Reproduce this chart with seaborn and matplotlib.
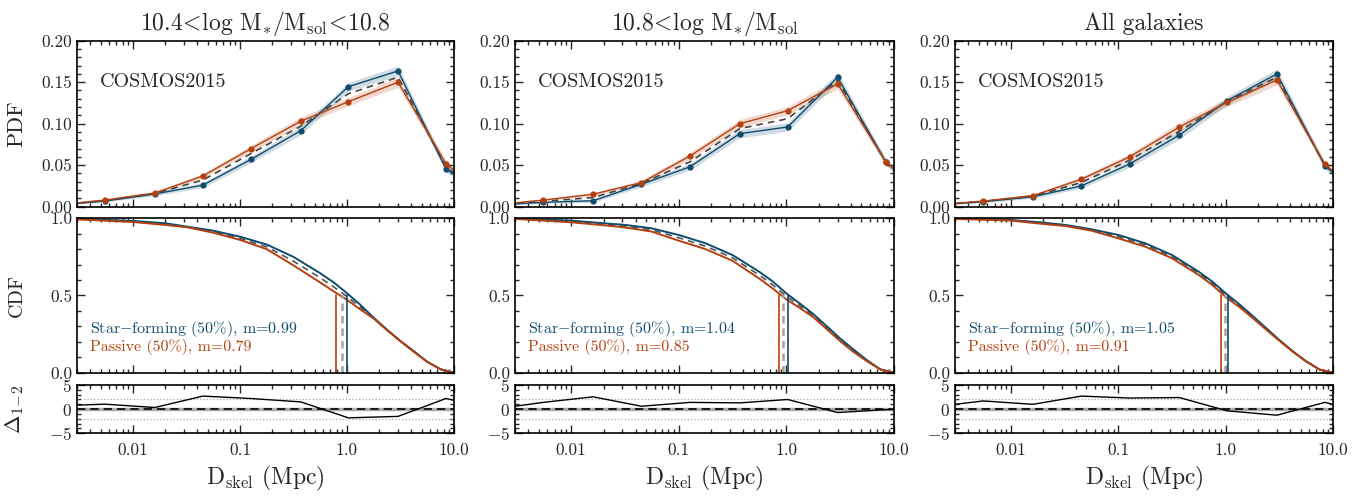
import matplotlib
matplotlib.use('Agg')
import matplotlib.pyplot as plt
import matplotlib.ticker as mticker
import seaborn as sns
import numpy as np


BLUE = '#0f4c6e'
RED = '#b5400f'

titles = [r'10.4$\!<\!$log M$_{*}$/M$_{\rm sol}$$\!<\!$10.8',
          r'10.8$\!<\!$log M$_{*}$/M$_{\rm sol}$',
          'All galaxies']

# PDF bin centres (Mpc)
pdf_x = [0.0019, 0.0055, 0.016, 0.045, 0.127, 0.37, 1.03, 3.0, 8.4, 24.0]
pdf_err = [0.001, 0.001, 0.002, 0.003, 0.004, 0.005, 0.005, 0.006, 0.004, 0.002]

pdf_sf_low = [0.002, 0.0068, 0.0153, 0.026, 0.057, 0.0916, 0.1446, 0.1635, 0.0454, 0.006]
pdf_pas_low = [0.002, 0.008, 0.0165, 0.037, 0.070, 0.103, 0.1265, 0.150, 0.052, 0.002]
pdf_tot_low = [0.002, 0.0073, 0.016, 0.032, 0.064, 0.097, 0.136, 0.156, 0.048, 0.004]

pdf_sf_high = [0.002, 0.0052, 0.0072, 0.027, 0.048, 0.088, 0.096, 0.156, 0.054, 0.002]
pdf_pas_high = [0.002, 0.008, 0.015, 0.029, 0.061, 0.100, 0.1157, 0.148, 0.054, 0.002]
pdf_tot_high = [0.002, 0.0065, 0.011, 0.028, 0.054, 0.094, 0.106, 0.152, 0.054, 0.002]

pdf_sf_all = [0.002, 0.006, 0.012, 0.025, 0.0514, 0.0863, 0.1277, 0.160, 0.049, 0.002]
pdf_pas_all = [0.002, 0.0068, 0.0133, 0.033, 0.060, 0.096, 0.1257, 0.1526, 0.051, 0.002]
pdf_tot_all = [0.002, 0.0064, 0.0127, 0.029, 0.056, 0.091, 0.1267, 0.156, 0.050, 0.002]

# cumulative curves (fraction of galaxies beyond D_skel)
cdf_x = [0.003, 0.01, 0.02, 0.032, 0.056, 0.1, 0.178, 0.316, 0.56, 0.75,
         1.0, 1.33, 1.78, 2.37, 3.16, 4.2, 5.6, 7.5, 10.0]

cdf_sf_low = [0.997, 0.983, 0.968, 0.946, 0.920, 0.881, 0.830, 0.750, 0.645, 0.585,
              0.515, 0.440, 0.355, 0.278, 0.205, 0.140, 0.071, 0.022, 0.0]
cdf_pas_low = [0.993, 0.976, 0.957, 0.942, 0.907, 0.860, 0.800, 0.695, 0.585, 0.527,
               0.472, 0.410, 0.350, 0.275, 0.203, 0.136, 0.071, 0.022, 0.0]
cdf_tot_low = [0.995, 0.980, 0.962, 0.944, 0.913, 0.870, 0.815, 0.722, 0.615, 0.556,
               0.493, 0.425, 0.352, 0.276, 0.204, 0.138, 0.071, 0.022, 0.0]

cdf_sf_high = [1.0, 0.985, 0.968, 0.957, 0.935, 0.892, 0.838, 0.762, 0.654, 0.590,
               0.514, 0.449, 0.380, 0.302, 0.222, 0.151, 0.082, 0.022, 0.0]
cdf_pas_high = [0.996, 0.974, 0.955, 0.940, 0.914, 0.855, 0.800, 0.725, 0.610, 0.545,
                0.475, 0.420, 0.360, 0.283, 0.205, 0.135, 0.075, 0.020, 0.0]
cdf_tot_high = [0.998, 0.980, 0.962, 0.948, 0.925, 0.874, 0.819, 0.744, 0.632, 0.568,
                0.495, 0.435, 0.370, 0.293, 0.214, 0.143, 0.078, 0.021, 0.0]

cdf_sf_all = [1.0, 0.989, 0.972, 0.957, 0.929, 0.892, 0.838, 0.762, 0.654, 0.590,
              0.514, 0.445, 0.368, 0.290, 0.212, 0.140, 0.075, 0.020, 0.0]
cdf_pas_all = [0.996, 0.985, 0.963, 0.950, 0.920, 0.870, 0.816, 0.741, 0.633, 0.568,
               0.490, 0.427, 0.355, 0.280, 0.207, 0.137, 0.073, 0.020, 0.0]
cdf_tot_all = [0.998, 0.987, 0.967, 0.953, 0.924, 0.881, 0.827, 0.751, 0.643, 0.579,
               0.502, 0.436, 0.361, 0.285, 0.209, 0.138, 0.074, 0.020, 0.0]

# medians (Mpc)
m_sf = [0.99, 1.04, 1.05]
m_pas = [0.79, 0.85, 0.91]
m_tot = [0.89, 0.93, 0.98]

# significance of the PDF difference
res_low = [0.68, 1.03, 0.34, 2.7, 2.2, 1.5, -1.8, -1.5, 2.2, 0.0]
res_high = [0.0, 1.4, 2.55, 0.6, 1.4, 1.3, 2.0, -0.7, -0.1, -0.1]
res_all = [0.47, 1.7, 1.0, 2.7, 2.3, 2.4, -0.35, -1.25, 1.4, -1.0]

pdfs = [(pdf_sf_low, pdf_pas_low, pdf_tot_low),
        (pdf_sf_high, pdf_pas_high, pdf_tot_high),
        (pdf_sf_all, pdf_pas_all, pdf_tot_all)]
cdfs = [(cdf_sf_low, cdf_pas_low, cdf_tot_low),
        (cdf_sf_high, cdf_pas_high, cdf_tot_high),
        (cdf_sf_all, cdf_pas_all, cdf_tot_all)]
residuals = [res_low, res_high, res_all]


sns.set_style('ticks')
plt.rcParams['font.family'] = ['cmr10', 'DejaVu Serif']
plt.rcParams['mathtext.fontset'] = 'cm'
plt.rcParams['axes.formatter.use_mathtext'] = True
plt.rcParams['axes.unicode_minus'] = True

fig = plt.figure(figsize=(13.63, 4.96), dpi=100)

COL_X = [0.0565, 0.3778, 0.7007]
COL_W = [0.2766, 0.2780, 0.2773]
ROW_PDF = (0.5833, 0.3347)
ROW_CDF = (0.2486, 0.3113)
ROW_RES = (0.1264, 0.0974)


def style_axis(ax, ymajor, yminor):
    ax.set_xscale('log')
    ax.set_xlim(0.003, 10.0)
    ax.xaxis.set_major_locator(mticker.FixedLocator([0.01, 0.1, 1.0, 10.0]))
    ax.xaxis.set_major_formatter(mticker.FixedFormatter(['0.01', '0.1', '1.0', '10.0']))
    ax.xaxis.set_minor_locator(mticker.LogLocator(base=10, subs=np.arange(2, 10)))
    ax.xaxis.set_minor_formatter(mticker.NullFormatter())
    ax.yaxis.set_major_locator(mticker.MultipleLocator(ymajor))
    ax.yaxis.set_minor_locator(mticker.MultipleLocator(yminor))
    ax.tick_params(which='both', direction='in', top=True, right=True, labelsize=12.5, width=1.0)
    ax.tick_params(which='major', length=6)
    ax.tick_params(which='minor', length=3)
    for sp in ax.spines.values():
        sp.set_linewidth(1.2)
        sp.set_color('black')


for i in range(3):
    sf, pas, tot = pdfs[i]
    ax = fig.add_axes([COL_X[i], ROW_PDF[0], COL_W[i], ROW_PDF[1]])
    for vals, col in [(sf, BLUE), (pas, RED)]:
        lo = np.array(vals) - np.array(pdf_err)
        hi = np.array(vals) + np.array(pdf_err)
        ax.fill_between(pdf_x, lo, hi, color=col, alpha=0.2, lw=0)
    sns.lineplot(x=pdf_x, y=tot, ax=ax, color='#444444', lw=1.2, ls=(0, (4, 3)))
    sns.lineplot(x=pdf_x, y=sf, ax=ax, color=BLUE, lw=1.0, marker='o',
                 markersize=4.5, markeredgewidth=0)
    sns.lineplot(x=pdf_x, y=pas, ax=ax, color=RED, lw=1.0, marker='o',
                 markersize=4.5, markeredgewidth=0)
    style_axis(ax, 0.05, 0.01)
    ax.set_ylim(0, 0.2)
    ax.yaxis.set_major_formatter(mticker.FormatStrFormatter('%.2f'))
    ax.tick_params(labelbottom=False)
    ax.text(0.061, 0.75, 'COSMOS2015', transform=ax.transAxes, fontsize=14.5,
            va='center', ha='left')
    ax.set_title(titles[i], fontsize=17, pad=8)
    if i == 0:
        ax.set_ylabel('PDF', fontsize=16)
        ax.yaxis.set_label_coords(-0.135, 0.5)

    sf, pas, tot = cdfs[i]
    ax = fig.add_axes([COL_X[i], ROW_CDF[0], COL_W[i], ROW_CDF[1]])
    sns.lineplot(x=cdf_x, y=tot, ax=ax, color='#555555', lw=1.2, ls=(0, (4, 3)))
    sns.lineplot(x=cdf_x, y=sf, ax=ax, color=BLUE, lw=1.4)
    sns.lineplot(x=cdf_x, y=pas, ax=ax, color=RED, lw=1.4)
    ax.plot([m_pas[i]] * 2, [0, 0.5], color=RED, lw=1.2)
    ax.plot([m_tot[i]] * 2, [0, 0.5], color='#b0a09a', lw=1.8, ls=(0, (3, 2)))
    ax.plot([m_sf[i]] * 2, [0, 0.5], color=BLUE, lw=1.2)
    style_axis(ax, 0.5, 0.1)
    ax.set_ylim(0, 1.0)
    ax.yaxis.set_major_formatter(mticker.FormatStrFormatter('%.1f'))
    ax.tick_params(labelbottom=False)
    ax.text(0.034, 0.283, r'Star$-$forming (50%%), m=%.2f' % m_sf[i],
            transform=ax.transAxes, color=BLUE, fontsize=11.5, va='center')
    ax.text(0.034, 0.168, 'Passive (50%%), m=%.2f' % m_pas[i],
            transform=ax.transAxes, color=RED, fontsize=11.5, va='center')
    if i == 0:
        ax.set_ylabel('CDF', fontsize=14.5)
        ax.yaxis.set_label_coords(-0.135, 0.5)

    ax = fig.add_axes([COL_X[i], ROW_RES[0], COL_W[i], ROW_RES[1]])
    ax.axhline(0, color='#aaaaaa', lw=2.5)
    ax.axhline(0, color='black', lw=1.2, ls=(0, (5, 3)))
    ax.axhline(2, color='#aaaaaa', lw=0.9, ls=':')
    ax.axhline(-2, color='#aaaaaa', lw=0.9, ls=':')
    sns.lineplot(x=pdf_x, y=residuals[i], ax=ax, color='black', lw=1.0)
    style_axis(ax, 5, 1)
    ax.set_ylim(-5, 5)
    ax.tick_params(axis='x', which='major', pad=7)
    ax.set_xlabel(r'D$_{\rm skel}$ (Mpc)', fontsize=17, labelpad=4)
    if i == 0:
        ax.set_ylabel(r'$\Delta_{1\!-\!2}$', fontsize=16)
        ax.yaxis.set_label_coords(-0.135, 0.5)

fig.savefig('out.png', dpi=100)
